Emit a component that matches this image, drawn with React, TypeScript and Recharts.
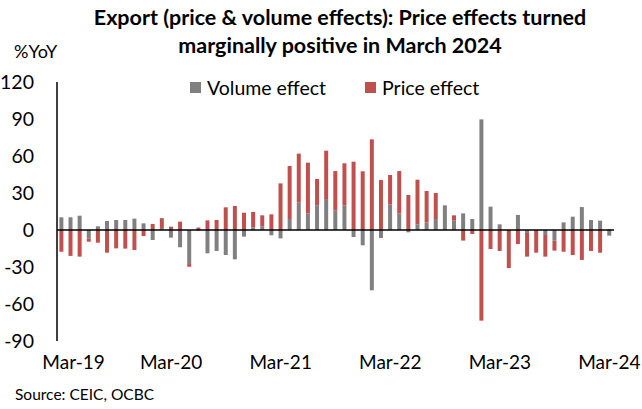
import { BarChart, Bar, XAxis, YAxis, ReferenceLine } from "recharts";

const MONTHS = ["Jan", "Feb", "Mar", "Apr", "May", "Jun", "Jul", "Aug", "Sep", "Oct", "Nov", "Dec"];

// Mar-19 .. Mar-24, monthly
const categories: string[] = [];
for (let i = 0; i < 61; i++) {
  const m = (2 + i) % 12;
  const y = 19 + Math.floor((2 + i) / 12);
  categories.push(`${MONTHS[m]}-${y}`);
}

const volumeEffect = [
  10.3, 10.3, 11.6, -6.8, 3.0, 7.3, 8.1, 8.1, 9.2, 5.4, -8.1, 1.6,
  -6.2, -14.0, -27.6, -0.5, -18.9, -17.0, -20.3, -23.8, -5.4, 2.2, 3.0, -4.3,
  -6.8, 8.9, 22.4, 13.5, 20.0, 25.1, 15.7, 20.0, -5.7, -12.4, -48.9, -6.5,
  20.8, 13.5, -1.9, 4.6, 6.2, 8.9, 20.0, 7.6, 13.5, 8.9, 89.7, 18.9,
  4.6, 0, 12.2, -2.4, 0, -4.0, -8.6, 6.2, 10.8, 18.6, 8.1, 7.6, -4.6,
];

const priceEffect = [
  -17.6, -21.0, -21.6, -2.7, -10.3, -18.4, -14.9, -15.1, -16.2, -4.9, 4.9, 8.0,
  2.7, 6.8, -2.2, 2.0, 7.8, 8.1, 18.4, 19.5, 14.0, 12.4, 8.9, 12.7,
  37.8, 43.0, 39.5, 41.1, 21.4, 39.2, 32.1, 34.1, 55.4, 47.6, 73.5, 40.5,
  23.8, 34.3, 28.4, 36.2, 25.4, 21.1, 0, 4.3, -8.6, -3.2, -73.5, -15.4,
  -17.0, -30.8, -11.4, -19.2, -18.4, -17.6, -8.1, -17.6, -20.3, -24.3, -17.0, -18.4, 0.5,
];

const yTicks = [-90, -60, -30, 0, 30, 60, 90, 120];

const data = categories.map((month, i) => ({
  month,
  volume: volumeEffect[i],
  price: priceEffect[i],
}));

const FONT = "Lato, 'Open Sans', sans-serif";
const GREY = "#808080";
const RED = "#C0504D";

// first label sits a little inside, as in the source chart
const MonthTick = (props: any) => {
  const { x, y, payload, index } = props;
  return (
    <text
      x={x + (index === 0 ? 12 : 0)}
      y={y}
      dy={16}
      textAnchor="middle"
      fontSize={19}
      fontFamily={FONT}
      fill="#000"
    >
      {payload.value}
    </text>
  );
};

export default function App() {
  return (
    <div
      style={{
        position: "absolute",
        left: 0,
        top: 0,
        width: 642,
        height: 409,
        background: "#fff",
        fontFamily: FONT,
        color: "#000",
      }}
    >
      <div
        style={{
          position: "absolute",
          left: 40,
          width: 600,
          top: 3,
          textAlign: "center",
          fontWeight: 700,
          fontSize: 21.5,
          lineHeight: "28px",
        }}
      >
        Export (price &amp; volume effects): Price effects turned
        <br />
        marginally positive in March 2024
      </div>
      <div style={{ position: "absolute", left: 14, top: 40, fontSize: 18 }}>%YoY</div>

      {/* legend */}
      <div
        style={{
          position: "absolute",
          top: 76,
          left: 190,
          display: "flex",
          alignItems: "center",
          fontSize: 19.5,
        }}
      >
        <span style={{ width: 11, height: 11, background: GREY, display: "inline-block", marginRight: 6 }} />
        <span style={{ marginRight: 39 }}>Volume effect</span>
        <span style={{ width: 11, height: 11, background: RED, display: "inline-block", marginRight: 6 }} />
        <span>Price effect</span>
      </div>

      <BarChart
        width={642}
        height={409}
        data={data}
        stackOffset="sign"
        barCategoryGap="26%"
        margin={{ top: 82, right: 28, left: 0, bottom: 40 }}
        style={{ position: "absolute", left: 0, top: 0 }}
      >
        <XAxis
          dataKey="month"
          interval={11}
          axisLine={false}
          tickLine={false}
          height={28}
          tick={<MonthTick />}
          tickMargin={6}
        />
        <YAxis
          domain={[-90, 120]}
          ticks={yTicks}
          interval={0}
          width={57}
          axisLine={{ stroke: "#000", strokeWidth: 1.5 }}
          tickLine={false}
          tickMargin={17}
          tick={{ fontSize: 19.5, fill: "#000", fontFamily: FONT }}
        />
        <Bar dataKey="volume" stackId="a" fill={GREY} isAnimationActive={false} />
        <Bar dataKey="price" stackId="a" fill={RED} isAnimationActive={false} />
        <ReferenceLine y={0} stroke="#000" strokeWidth={1.5} />
      </BarChart>

      <div style={{ position: "absolute", left: 15, top: 385, fontSize: 15.5 }}>Source: CEIC, OCBC</div>
    </div>
  );
}
